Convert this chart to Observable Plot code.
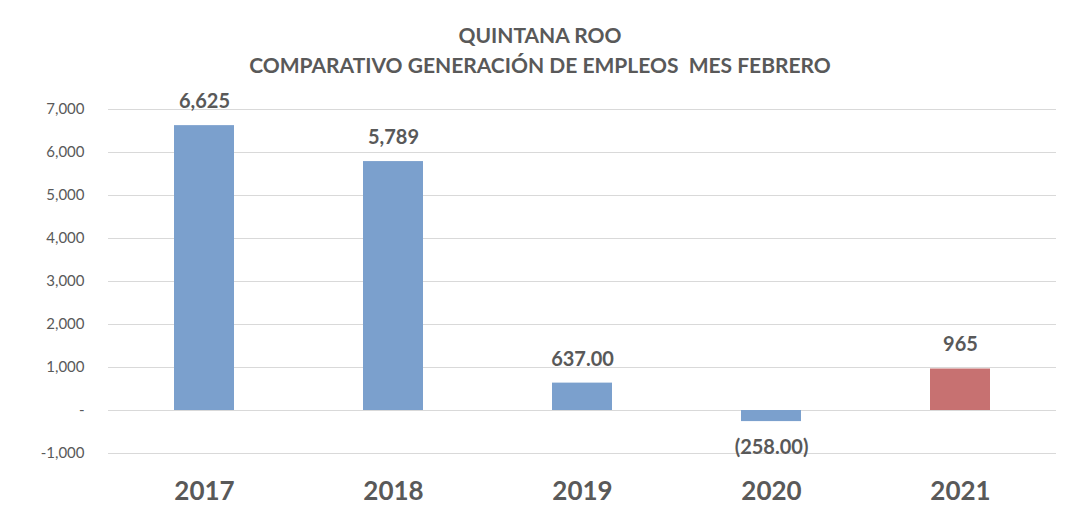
<!DOCTYPE html>
<html>
<head>
<meta charset="utf-8">
<script src="https://cdn.jsdelivr.net/npm/d3@7"></script>
<script src="https://cdn.jsdelivr.net/npm/@observablehq/plot@0.6"></script>
<style>
  body { margin: 0; background: #ffffff; font-family: Lato, "Open Sans", sans-serif; }
  #title { height: 85px; box-sizing: border-box; padding-top: 20px; text-align: center; color: #595959; font-weight: bold; font-size: 21px; line-height: 30px; }
  #title div { margin-left: 12px; }
</style>
</head>
<body>
<div id="title"><div>QUINTANA ROO</div><div>COMPARATIVO GENERACIÓN DE EMPLEOS&nbsp; MES FEBRERO</div></div>
<div id="chart"></div>
<script>
const years = ["2017", "2018", "2019", "2020", "2021"];
const values = [6625, 5789, 637, -258, 965];
const valueLabels = ["6,625", "5,789", "637.00", "(258.00)", "965"];
const barColors = ["#7BA0CD", "#7BA0CD", "#7BA0CD", "#7BA0CD", "#C77171"];
const yTicks = [-1000, 0, 1000, 2000, 3000, 4000, 5000, 6000, 7000];

const data = years.map((y, i) => ({year: y, value: values[i], label: valueLabels[i], color: barColors[i]}));

const chart = Plot.plot({
  width: 1068,
  height: 426,
  marginLeft: 108,
  marginRight: 12,
  marginTop: 24,
  marginBottom: 58,
  style: {fontFamily: "Lato, 'Open Sans', sans-serif", color: "#595959", background: "transparent"},
  x: {domain: years, paddingInner: 0.68, paddingOuter: 0.34, label: null},
  y: {domain: [-1000, 7000], label: null},
  marks: [
    Plot.gridY(yTicks, {stroke: "#d9d9d9", strokeOpacity: 1, strokeWidth: 1}),
    Plot.barY(data, {x: "year", y: "value", fill: "color"}),
    Plot.text(data.filter(d => d.value >= 0), {x: "year", y: "value", text: "label", dy: -24, fontSize: 20, fontWeight: "bold", fill: "#595959"}),
    Plot.text(data.filter(d => d.value < 0), {x: "year", y: "value", text: "label", dy: 26, fontSize: 20, fontWeight: "bold", fill: "#595959"}),
    Plot.axisY(yTicks, {tickSize: 0, tickPadding: 24, fontSize: 15, tickFormat: d => d === 0 ? "-" : d3.format(",")(d).replace("\u2212", "-"), fill: "#595959"}),
    Plot.axisX({tickSize: 0, tickPadding: 28, fontSize: 26, fontWeight: "bold", fill: "#595959"})
  ]
});
document.getElementById("chart").appendChild(chart);
</script>
</body>
</html>
